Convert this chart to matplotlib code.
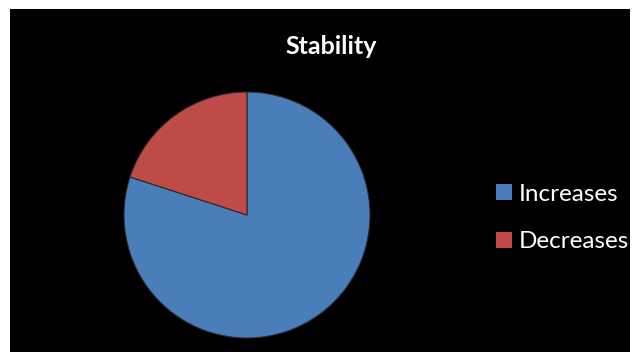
import matplotlib.pyplot as plt
from matplotlib.patches import Patch

# chart data
labels = ['Increases', 'Decreases']
values = [80, 20]
colors = ['#4a7ebb', '#be4b48']
title = 'Stability'

W, H = 641, 363
fig = plt.figure(figsize=(W / 100, H / 100), dpi=100)
fig.patch.set_facecolor('white')

# black chart area
bg = fig.add_axes([10 / W, 11 / H, 620 / W, 343 / H])
bg.set_facecolor('black')
bg.set_xticks([])
bg.set_yticks([])
for s in bg.spines.values():
    s.set_visible(False)

# pie
ax = fig.add_axes([124 / W, 25 / H, 246 / W, 246 / H])
ax.pie(values, colors=colors, startangle=90, counterclock=False,
       wedgeprops=dict(edgecolor='#2a2a2a', linewidth=0.8))
ax.set_xlim(-1.0, 1.0)
ax.set_ylim(-1.0, 1.0)
ax.set_aspect('equal')
ax.axis('off')

fig.text(331 / W, 1 - 46 / H, title, color='white', fontsize=18,
         fontweight='bold', family='Lato', ha='center', va='center')

handles = [Patch(facecolor=c, edgecolor='none') for c in colors]
leg = fig.legend(handles, labels, loc='center left',
                 bbox_to_anchor=(474 / W, 1 - 218 / H), frameon=False,
                 handlelength=0.65, handleheight=0.65, handletextpad=0.3,
                 labelspacing=1.1, prop={'family': 'Lato', 'size': 17.5})
for t in leg.get_texts():
    t.set_color('white')

fig.savefig('out.png', dpi=100, facecolor='white')
